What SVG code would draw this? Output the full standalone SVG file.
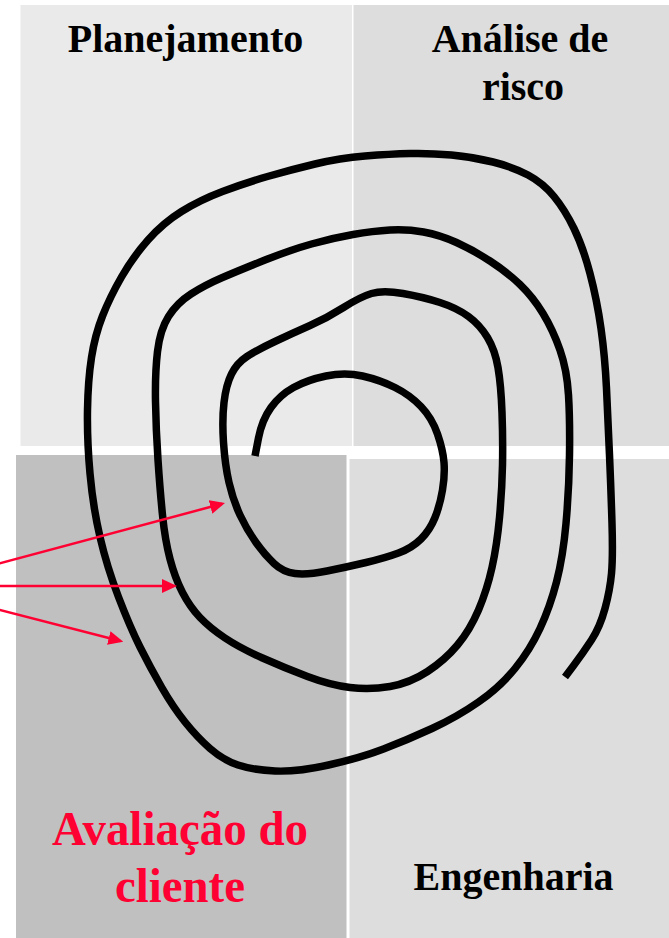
<svg xmlns="http://www.w3.org/2000/svg" width="669" height="938" viewBox="0 0 669 938">
<style>
.lbl{font-family:"Liberation Serif","Times New Roman",serif;font-weight:bold;font-size:40px;fill:#000;text-anchor:middle}
.red{fill:#ff0033;font-size:48px}
.spiral{fill:none;stroke:#000;stroke-width:7.5;stroke-linejoin:round;stroke-linecap:butt}
.arrow{fill:none;stroke:#ff0033;stroke-width:2.5}
</style>
<defs>
<marker id="ah" markerUnits="userSpaceOnUse" markerWidth="15" markerHeight="14" viewBox="0 0 15 14" refX="12" refY="7" orient="auto">
<path d="M0,0 L15,7 L0,14 z" fill="#ff0033"/>
</marker>
</defs>
<rect width="669" height="938" fill="#fff"/>
<g id="planejamento">
<rect x="20.5" y="5" width="331.5" height="441" fill="#eaeaea"/>
<text class="lbl" x="185.5" y="52">Planejamento</text>
</g>
<g id="analise-de-risco">
<rect x="353.5" y="5" width="315.5" height="441" fill="#dddddd"/>
<text class="lbl" x="520" y="52">Análise de</text>
<text class="lbl" x="523" y="100">risco</text>
</g>
<g id="avaliacao-do-cliente">
<rect x="16" y="455" width="330.5" height="483" fill="#c0c0c0"/>
<text class="lbl red" x="180" y="845" textLength="256" lengthAdjust="spacingAndGlyphs">Avaliação do</text>
<text class="lbl red" x="180" y="902" textLength="130" lengthAdjust="spacingAndGlyphs">cliente</text>
</g>
<g id="engenharia">
<rect x="349.5" y="459" width="319.5" height="479" fill="#dddddd"/>
<text class="lbl" x="513.5" y="890">Engenharia</text>
</g>
<g id="spiral">
<path class="spiral" d="M255,456 L258.5,438 Q262,420 271,407.5 Q280,395 293.5,387.5 Q307,380 326,376 Q345,372 362.5,376 Q380,380 395,387.5 Q410,395 421,406.5 Q432,418 437.5,434 Q443,450 444,462.5 Q445,475 442.5,490 Q440,505 435,517.5 Q430,530 421,539 Q412,548 398.5,553 Q385,558 366,562.5 Q347,567 327,571 Q307,575 295,573.5 Q283,572 274,563.5 Q265,555 256,542.5 Q247,530 240,515 Q233,500 229,482.5 Q225,465 223.5,442.5 Q222,420 224,402.5 Q226,385 231.5,374 Q237,363 247,356.5 Q257,350 275,341.5 Q293,333 310,325.5 Q327,318 343.5,307.5 Q360,297 371.5,293.5 Q383,290 403,293.5 Q423,297 440,302.5 Q457,308 468.5,316.5 Q480,325 487.5,337.5 Q495,350 498,367.5 Q501,385 502,412.5 Q503,440 502.5,465 Q502,490 499.5,517.5 Q497,545 492,567.5 Q487,590 478.5,610 Q470,630 457.5,645 Q445,660 427.5,671.5 Q410,683 390,686.5 Q370,690 350,687.5 Q330,685 307.5,676.5 Q285,668 262.5,658 Q240,648 225,638 Q210,628 200,617.5 Q190,607 182.5,592.5 Q175,578 170,559 Q165,540 162.5,515 Q160,490 158,460 Q156,430 155.5,401.5 Q155,373 157.5,351.5 Q160,330 168.5,316.5 Q177,303 191,294 Q205,285 222.5,277.5 Q240,270 265,260 Q290,250 311.5,244 Q333,238 353,234.5 Q373,231 390,230 Q407,229 423.5,232 Q440,235 456.5,242.5 Q473,250 490,261 Q507,272 520,284.5 Q533,297 543,313.5 Q553,330 560,350 Q567,370 568.5,395 Q570,420 569.5,455 Q569,490 566,523.5 Q563,557 556.5,582 Q550,607 540,628.5 Q530,650 515,668.5 Q500,687 478.5,702 Q457,717 432,728.5 Q407,740 383.5,749 Q360,758 328.5,765 Q297,772 275,771 Q253,770 238,765 Q223,760 210,748.5 Q197,737 185,722 Q173,707 161.5,687 Q150,667 140,647 Q130,627 118.5,597 Q107,567 100,537 Q93,507 90,473.5 Q87,440 87.5,410 Q88,380 91.5,357.5 Q95,335 102.5,316 Q110,297 121.5,277 Q133,257 148,240 Q163,223 181.5,211.5 Q200,200 222.5,191.5 Q245,183 267.5,176.5 Q290,170 315,164 Q340,158 365,156 Q390,154 410,153.5 Q430,153 451.5,155 Q473,157 493,162 Q513,167 528,175 Q543,183 554,196.5 Q565,210 574,228.5 Q583,247 590,273.5 Q597,300 601,328.5 Q605,357 606.5,388.5 Q608,420 609.5,455 Q611,490 612,523.5 Q613,557 611.5,573.5 Q610,590 605,608.5 Q600,627 591.5,640 Q583,653 574,665 L565,677"/>
</g>
<g id="connectors">
<line class="arrow" x1="-89" y1="587" x2="222.1" y2="503.8" marker-end="url(#ah)"/>
<line class="arrow" x1="-89" y1="586" x2="174" y2="586" marker-end="url(#ah)"/>
<line class="arrow" x1="-89" y1="587" x2="120.4" y2="641" marker-end="url(#ah)"/>
</g>
</svg>
